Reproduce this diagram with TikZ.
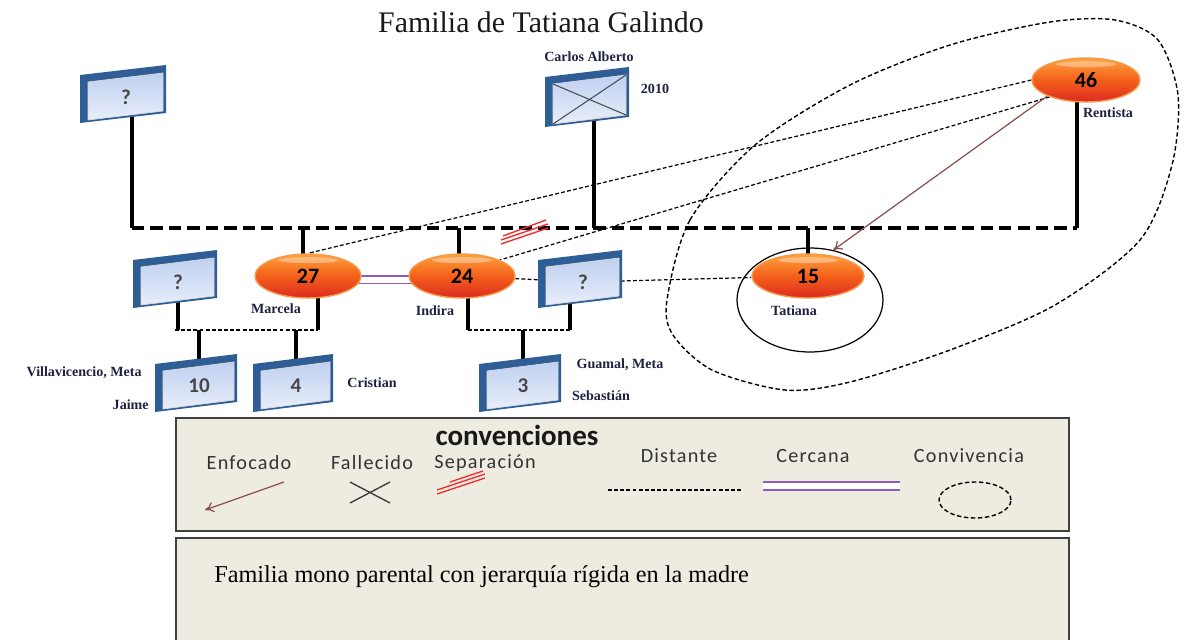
\documentclass[tikz,border=0pt]{standalone}
\usepackage{fontspec}
\setmainfont{Liberation Serif}
\newfontfamily\calib{Carlito}
\newfontfamily\calibsp[LetterSpace=6]{Carlito}
\usetikzlibrary{backgrounds,arrows.meta,calc,shapes.geometric}
\definecolor{frameblue}{HTML}{2F5E96}
\definecolor{facetop}{HTML}{BFD0F0}
\definecolor{facebot}{HTML}{E8EEFA}
\definecolor{legbg}{HTML}{EEEBE0}
\definecolor{legline}{HTML}{404040}
\definecolor{enfoc}{HTML}{8B4F4F}
\definecolor{cercana}{HTML}{8E5CC0}
\definecolor{sepred}{HTML}{F03030}
\definecolor{orTop}{HTML}{FFA23C}
\definecolor{orMid}{HTML}{F4601A}
\definecolor{orBot}{HTML}{DC2A22}
\definecolor{orEdge}{HTML}{F59A48}
\definecolor{tagcol}{HTML}{1E2240}
\tikzset{
 kin/.style={line width=2.4pt},
 kindash/.style={line width=2.4pt, dash pattern=on 7pt off 3.5pt},
 distant/.style={line width=0.7pt, dash pattern=on 2.2pt off 1.3pt},
 person/.style={ellipse, minimum width=2.12cm, minimum height=0.88cm, inner sep=0pt,
   top color=orTop, bottom color=orBot, middle color=orMid, draw=orEdge, line width=0.8pt,
   font=\calib\bfseries\fontsize{12.5}{14}\selectfont,
   path picture={\fill[white,opacity=0.35] ([yshift=-3.5pt]path picture bounding box.north) ellipse [x radius=0.6cm, y radius=0.06cm];}},
 boxframe/.style={fill=frameblue},
 boxface/.style={top color=facetop, bottom color=facebot, draw=white!70!gray, line width=0.4pt},
 boxtext/.style={font=\calib\bfseries\fontsize{12}{14}\selectfont, text=black!72, inner sep=1pt},
 tag/.style={font=\bfseries\fontsize{8}{9}\selectfont, text=tagcol, inner sep=0pt},
 legtext/.style={font=\calibsp\fontsize{11.5}{13}\selectfont, text=black!80, inner sep=0pt},
 panel/.style={fill=legbg, draw=legline, line width=1.2pt},
 enfocado/.style={draw=enfoc, line width=0.7pt, -{To[length=5pt,width=6pt]}},
 cercanaline/.style={draw=cercana, line width=0.9pt, double=white, double distance=3.4pt},
 sepline/.style={draw=sepred, line width=0.8pt},
 convive/.style={line width=0.8pt, dash pattern=on 2.5pt off 1.5pt},
}
% #1 name, #2 cx, #3 cy, #4 half width, #5 half height, #6 text
\newcommand{\gbox}[6]{%
  \fill[boxframe] ({#2-#4},{#3-#5+10}) -- ({#2+#4},{#3-#5}) -- ({#2+#4},{#3+#5-10}) -- ({#2-#4},{#3+#5}) -- cycle;
  \shade[boxface] ({#2-#4+8},{#3-#5+17}) -- ({#2+#4-3},{#3-#5+8}) -- ({#2+#4-3},{#3+#5-12}) -- ({#2-#4+8},{#3+#5-3}) -- cycle;
  \node[boxtext] (#1) at ({#2+3},{#3+3}) {#6};
}
\begin{document}
\begin{tikzpicture}[x=0.02cm, y=-0.02cm]
\useasboundingbox (0,0) rectangle (1190,639);
\node[font=\fontsize{17}{20}\selectfont, text=black!90] (title) at (541,22) {Familia de Tatiana Galindo};

% convivencia outline
\draw[convive] plot[smooth cycle] coordinates {(667,300) (690,220) (755,145) (850,85) (950,45) (1050,22) (1115,20) (1158,40) (1178,95) (1172,165) (1140,240) (1055,305) (950,350) (850,382) (785,390) (712,370) (673,335)};

% boxes
\gbox{gp}{123}{94}{43}{29}{?}
\gbox{ca}{587}{97}{42}{30}{}
\draw[black!70, line width=0.6pt] (553,84) -- (626,115) (626,75) -- (553,124);
\gbox{pm}{175}{279}{42}{29}{?}
\gbox{pi}{580}{279}{42}{29}{?}
\gbox{c10}{196}{383}{41}{29}{10}
\gbox{c4}{293}{383}{40}{29}{4}
\gbox{c3}{520}{383}{41}{29}{3}

% Tatiana circle and persons
\node[draw, ellipse, minimum width=2.92cm, minimum height=2.08cm, line width=0.7pt] (tc) at (810,300) {};
\node[person] (m) at (308,276) {27};
\node[person] (i) at (462,276) {24};
\node[person, minimum width=2.24cm] (t) at (808,276) {15};
\node[person, minimum width=2.16cm] (r) at (1086,80) {46};

% tags
\node[tag] (lca) at (589,57) {Carlos Alberto};
\node[tag] (lyr) at (655,89) {2010};
\node[tag] (lr) at (1108,113) {Rentista};
\node[tag] (lm) at (276,309) {Marcela};
\node[tag] (li) at (435,311) {Indira};
\node[tag] (lt) at (794,311) {Tatiana};
\node[tag, anchor=east] (lvm) at (142,373) {Villavicencio, Meta};
\node[tag, anchor=east] (lj) at (149,405) {Jaime};
\node[tag] (lcr) at (372,383) {Cristian};
\node[tag] (lgm) at (620,365) {Guamal, Meta};
\node[tag] (ls) at (601,396) {Sebastián};

% connectors
\coordinate (jgp) at (132,228);
\coordinate (jm) at (303,228);
\coordinate (ji) at (459,228);
\coordinate (jca) at (594,228);
\coordinate (jt) at (808,228);
\coordinate (jr) at (1077,228);
\coordinate (fL) at (175,330);
\coordinate (fR) at (318,330);
\coordinate (gL) at (468,330);
\coordinate (gR) at (570,330);
\begin{scope}[on background layer]
\draw[kin] (jgp) -- (jgp |- gp);
\draw[kin] (jca) -- (jca |- ca);
\draw[kin] (jm) -- (jm |- m);
\draw[kin] (ji) -- (ji |- i);
\draw[kin] (jt) -- (jt |- t);
\draw[kin] (jr) -- (jr |- r);
\draw[kindash] (jgp) -- (jr);
\draw[kin] (pm) -- (pm |- fL);
\draw[kin] (fR |- m) -- (fR);
\draw[distant, line width=0.9pt] (fL) -- (fR);
\draw[kin] (c10 |- fL) -- (c10);
\draw[kin] (c4 |- fL) -- (c4);
\draw[kin] (gL |- i) -- (gL);
\draw[kin] (gR |- pi) -- (gR);
\draw[distant, line width=0.9pt] (gL) -- (gR);
\draw[kin] (c3 |- gL) -- (c3);
\draw[cercanaline] ([yshift=-2pt]m.center) -- ([yshift=-2pt]i.center);
\draw[distant] (i) -- (pi);
\draw[distant] (pi) -- (t);
\draw[distant] (r.west) -- (m.north);
\draw[distant] (r.205) -- (i.north east);
\end{scope}
\draw[enfocado] (r.south west) -- (tc.65);
\draw[sepline] (501,244) -- (548,228) (501,240) -- (548,224) (503,236) -- (546,220);

% legend
\draw[panel] (176,418) rectangle (1069,531);
\draw[panel] (176,538) rectangle (1069,650);
\node[legtext, font=\calib\bfseries\fontsize{16.5}{18}\selectfont, text=black!90] (conv) at (517,435) {convenciones};
\node[legtext] (len) at (249,463) {Enfocado};
\node[legtext] (lfa) at (372,463) {Fallecido};
\node[legtext] (lse) at (485,463) {Separación};
\node[legtext] (ldi) at (679,456) {Distante};
\node[legtext] (lce) at (813,456) {Cercana};
\node[legtext] (lco) at (969,456) {Convivencia};
\coordinate (ea) at (284,482);
\coordinate (eb) at (205,510);
\draw[enfocado] (ea) -- (eb);
\draw[black!75, line width=0.8pt] (350,482) -- (390,503) (350,503) -- (390,482);
\draw[sepline] (437,494) -- (485,478) (437,490) -- (485,474) (450,482) -- (483,471);
\draw[distant] (608,490) -- (743,490);
\draw[cercanaline] (763,486) -- (900,486);
\draw[convive] (975,500) ellipse [x radius=0.72cm, y radius=0.36cm];
\node[font=\fontsize{13.8}{15}\selectfont, anchor=west, inner sep=0pt] (note) at (214,577) {Familia mono parental con jerarquía rígida en la madre};
\end{tikzpicture}
\end{document}
